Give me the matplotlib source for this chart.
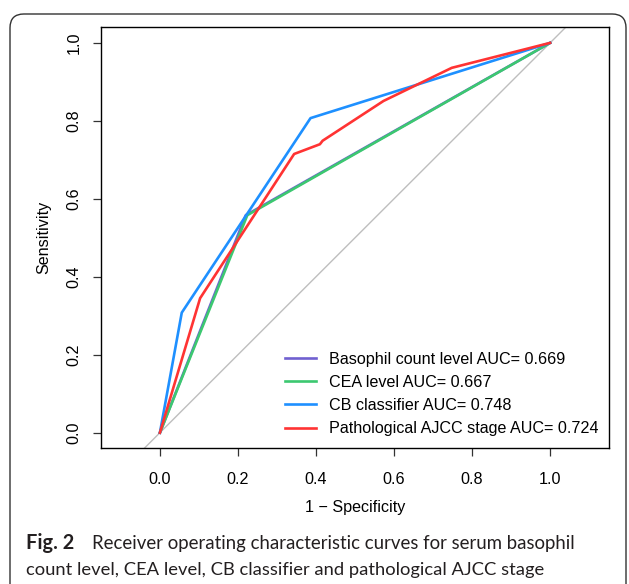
import matplotlib
matplotlib.use("Agg")
import matplotlib.pyplot as plt
from matplotlib.patches import FancyBboxPatch

# ROC points (1 - specificity, sensitivity)
baso_fpr = [0.0, 0.220, 1.0]
baso_tpr = [0.0, 0.558, 1.0]
cea_fpr = [0.0, 0.224, 1.0]
cea_tpr = [0.0, 0.558, 1.0]
cb_fpr = [0.0, 0.056, 0.386, 1.0]
cb_tpr = [0.0, 0.308, 0.807, 1.0]
ajcc_fpr = [0.0, 0.103, 0.344, 0.410, 0.417, 0.573, 0.748, 1.0]
ajcc_tpr = [0.0, 0.345, 0.715, 0.740, 0.749, 0.851, 0.936, 1.0]

labels = ["Basophil count level AUC= 0.669", "CEA level AUC= 0.667",
          "CB classifier AUC= 0.748", "Pathological AJCC stage AUC= 0.724"]
colors = ["#7060D0", "#3CC870", "#1E90FF", "#FF3333"]
ticks = [0.0, 0.2, 0.4, 0.6, 0.8, 1.0]
tick_labels = ["0.0", "0.2", "0.4", "0.6", "0.8", "1.0"]

W, H = 629, 584
fig = plt.figure(figsize=(W / 100, H / 100), dpi=100)

# outer rounded frame
frame = FancyBboxPatch((10 / W, -20 / H), 616 / W, (H - 14 + 20) / H,
                       boxstyle="round,pad=0,rounding_size=0.022",
                       mutation_aspect=W / H, transform=fig.transFigure,
                       facecolor="none", edgecolor="#333333", lw=1.0)
fig.patches.append(frame)

# axes placed in pixels: left 101, right 609, top 27, bottom 448
ax = fig.add_axes([101 / W, 1 - 448.3 / H, 508 / W, (448.3 - 27.3) / H])
ax.set_xlim(-0.151, 1.151)
ax.set_ylim(-0.04, 1.04)

txt = dict(family="Liberation Sans", fontsize=11.6)

ax.axline((0, 0), (1, 1), color="#BEBEBE", lw=1.0, zorder=1)
series = [(baso_fpr, baso_tpr), (cea_fpr, cea_tpr), (cb_fpr, cb_tpr), (ajcc_fpr, ajcc_tpr)]
for (x, y), c, lab in zip(series, colors, labels):
    ax.plot(x, y, color=c, lw=1.9, label=lab, zorder=2)

for s in ax.spines.values():
    s.set_linewidth(1.0)
    s.set_color("black")

ax.set_xticks(ticks)
ax.set_xticklabels(tick_labels, **txt)
ax.set_yticks(ticks)
ax.set_yticklabels(tick_labels, rotation=90, va="center", **txt)
ax.tick_params(axis="both", length=6, width=0.9, color="#333333")
ax.tick_params(axis="x", pad=11)
ax.tick_params(axis="y", pad=8)

fig.text(355 / W, 1 - 507.7 / H, "1 \u2212 Specificity", ha="center", va="center", **txt)
fig.text(43.3 / W, 1 - 237.8 / H, "Sensitivity", ha="center", va="center", rotation=90, **txt)

leg = ax.legend(loc="upper left", bbox_to_anchor=(285 / W, 1 - 352 / H),
                bbox_transform=fig.transFigure, frameon=False,
                prop={"family": "Liberation Sans", "size": 11.6},
                handlelength=1.9, handletextpad=0.85, labelspacing=0.5,
                borderpad=0, borderaxespad=0)
for h in leg.legend_handles:
    h.set_linewidth(1.9)

# caption
cap_font = "Lato"
cap_size = 13.2
fig.text(26 / W, 1 - 549 / H, "Fig. 2", family=cap_font, fontweight="bold",
         fontsize=14.4, color="#231F20", va="baseline")
fig.text(92 / W, 1 - 549 / H, "Receiver operating characteristic curves for serum basophil",
         family=cap_font, fontsize=13.4, color="#231F20", va="baseline")
fig.text(26 / W, 1 - 575 / H, "count level, CEA level, CB classifier and pathological AJCC stage",
         family=cap_font, fontsize=cap_size, color="#231F20", va="baseline")

fig.savefig("out.png", dpi=100)
